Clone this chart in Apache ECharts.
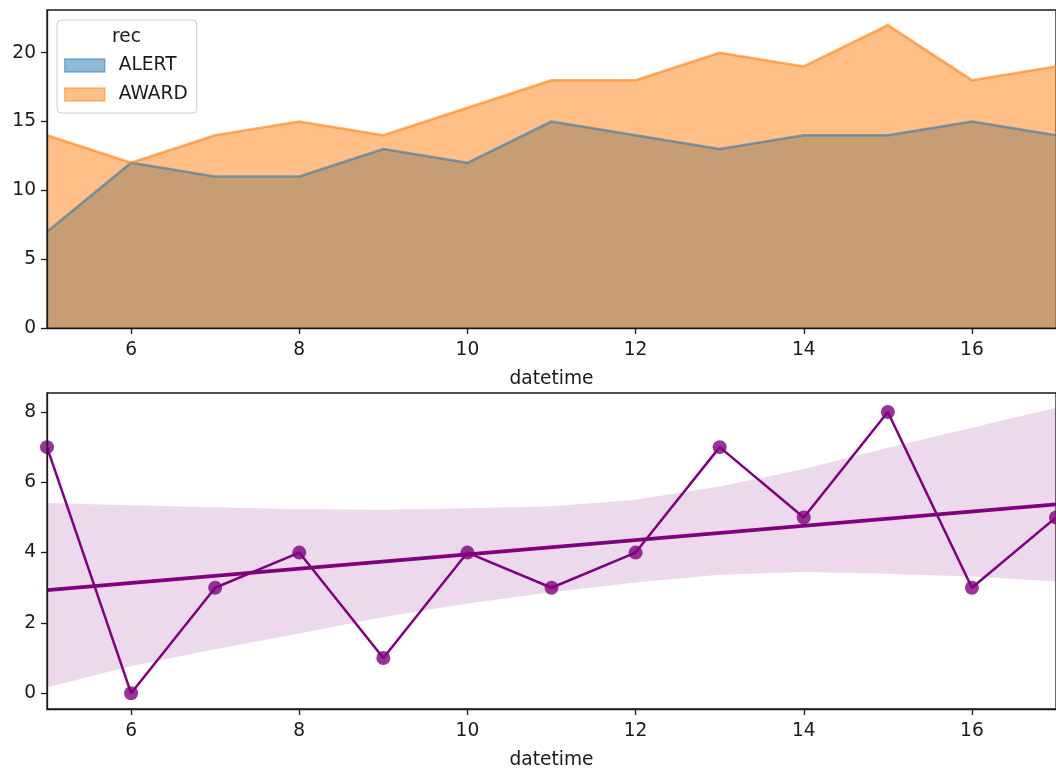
<!DOCTYPE html>
<html>
<head>
<meta charset="utf-8">
<script src="https://cdn.jsdelivr.net/npm/echarts@6/dist/echarts.min.js"></script>
<style>
  html, body { margin: 0; padding: 0; background: #fff; }
  #chart { width: 1056px; height: 771px; }
</style>
</head>
<body>
<div id="chart"></div>
<script>
// Hour of day (datetime) and counts per record type
const hours = [5, 6, 7, 8, 9, 10, 11, 12, 13, 14, 15, 16, 17];
const alertCounts = [7, 12, 11, 11, 13, 12, 15, 14, 13, 14, 14, 15, 14];
const awardCounts = [14, 12, 14, 15, 14, 16, 18, 18, 20, 19, 22, 18, 19];
// AWARD minus ALERT per hour
const gapCounts = [7, 0, 3, 4, 1, 4, 3, 4, 7, 5, 8, 3, 5];
// Linear fit of the gap and its confidence band
const fitHours = [5, 17];
const fitValues = [2.93, 5.37];
const bandLower = [0.16, 0.77, 1.25, 1.70, 2.17, 2.55, 2.87, 3.15, 3.37, 3.45, 3.40, 3.32, 3.18];
const bandUpper = [5.41, 5.35, 5.29, 5.23, 5.22, 5.26, 5.32, 5.50, 5.88, 6.38, 6.98, 7.55, 8.12];
// Tick labels
const xTicks = [6, 8, 10, 12, 14, 16];
const topYTicks = [0, 5, 10, 15, 20];
const bottomYTicks = [0, 2, 4, 6, 8];
const legendNames = ['ALERT', 'AWARD'];

const FONT = 'DejaVu Sans';
const FS = 18.6;
const INK = '#1a1a1a';
const BLUE = '#1f77b4';
const ORANGE = '#ff7f0e';
const PURPLE = '#800080';

const pairs = (xs, ys) => xs.map((x, i) => [x, ys[i]]);

function xAxisCfg(gridIndex) {
  return {
    type: 'value', gridIndex, min: 5, max: 17, z: 5,
    name: 'datetime', nameLocation: 'middle', nameGap: 42,
    nameTextStyle: { fontFamily: FONT, fontSize: FS, color: INK },
    axisLine: { show: true, onZero: false, lineStyle: { color: INK, width: 1.3 } },
    axisTick: { show: true, length: 6, customValues: xTicks, lineStyle: { color: INK, width: 1.3 } },
    axisLabel: { customValues: xTicks, margin: 13, fontFamily: FONT, fontSize: FS, color: INK },
    splitLine: { show: false }
  };
}
function yAxisCfg(gridIndex, min, max, ticks) {
  return {
    type: 'value', gridIndex, min, max, z: 5,
    axisLine: { show: true, lineStyle: { color: INK, width: 1.3 } },
    axisTick: { show: true, length: 6, customValues: ticks, lineStyle: { color: INK, width: 1.3 } },
    axisLabel: { customValues: ticks, margin: 11, fontFamily: FONT, fontSize: FS, color: INK },
    splitLine: { show: false }
  };
}

const bandData = hours.map((h, i) => [h, bandLower[i], bandUpper[i]]);

const option = {
  animation: false,
  backgroundColor: '#fff',
  grid: [
    { left: 47, top: 10, right: -5, height: 318, show: true, borderColor: INK, borderWidth: 1.3, backgroundColor: 'transparent' },
    { left: 47, top: 393, right: -5, height: 318, show: true, borderColor: INK, borderWidth: 1.3, backgroundColor: 'transparent' }
  ],
  xAxis: [xAxisCfg(0), xAxisCfg(1)],
  yAxis: [yAxisCfg(0, 0, 23.1, topYTicks), yAxisCfg(1, -0.45, 8.54, bottomYTicks)],
  legend: {
    orient: 'vertical', left: 57, top: 20,
    padding: [36, 9, 9, 7],
    itemWidth: 40, itemHeight: 13, itemGap: 10,
    backgroundColor: 'rgba(255,255,255,0.8)',
    borderColor: '#cccccc', borderWidth: 1, borderRadius: 4,
    selectedMode: false,
    textStyle: { fontFamily: FONT, fontSize: FS, color: INK, lineHeight: 18, padding: [0, 0, 0, 9] },
    data: [
      { name: legendNames[0], icon: 'rect', itemStyle: { color: 'rgba(31,119,180,0.5)', borderColor: 'rgba(31,119,180,0.5)', borderWidth: 1.5 } },
      { name: legendNames[1], icon: 'rect', itemStyle: { color: 'rgba(255,127,14,0.5)', borderColor: 'rgba(255,127,14,0.5)', borderWidth: 1.5 } }
    ]
  },
  graphic: [{
    type: 'text', left: 112, top: 28, z: 100,
    style: { text: 'rec', fontFamily: FONT, fontSize: FS, fill: INK }
  }],
  series: [
    // filled areas (no outline); the outlines are drawn above both fills
    { name: legendNames[0], type: 'line', xAxisIndex: 0, yAxisIndex: 0, data: pairs(hours, alertCounts),
      symbol: 'none', lineStyle: { width: 0, color: BLUE }, itemStyle: { color: BLUE },
      areaStyle: { color: BLUE, opacity: 0.5, origin: 'start' } },
    { name: legendNames[1], type: 'line', xAxisIndex: 0, yAxisIndex: 0, data: pairs(hours, awardCounts),
      symbol: 'none', lineStyle: { width: 0, color: ORANGE }, itemStyle: { color: ORANGE },
      areaStyle: { color: ORANGE, opacity: 0.5, origin: 'start' } },
    { name: legendNames[0], type: 'line', xAxisIndex: 0, yAxisIndex: 0, data: pairs(hours, alertCounts),
      symbol: 'none', z: 3, lineStyle: { width: 2.6, color: BLUE, opacity: 0.55 } },
    { name: legendNames[1], type: 'line', xAxisIndex: 0, yAxisIndex: 0, data: pairs(hours, awardCounts),
      symbol: 'none', z: 3, lineStyle: { width: 2.6, color: ORANGE, opacity: 0.6 } },

    // confidence band of the fit
    { type: 'custom', xAxisIndex: 1, yAxisIndex: 1, data: bandData, z: 1,
      encode: { x: 0, y: [1, 2] },
      renderItem: function (params, api) {
        if (params.dataIndex !== 0) return null;
        const pts = [];
        bandData.forEach(d => pts.push(api.coord([d[0], d[2]])));
        for (let i = bandData.length - 1; i >= 0; i--) pts.push(api.coord([bandData[i][0], bandData[i][1]]));
        return { type: 'polygon', shape: { points: pts }, style: { fill: 'rgba(128,0,128,0.15)' } };
      } },
    // hourly gap, connected
    { type: 'line', xAxisIndex: 1, yAxisIndex: 1, data: pairs(hours, gapCounts), z: 2,
      symbol: 'circle', symbolSize: 14, showSymbol: true,
      lineStyle: { color: PURPLE, width: 2.5 },
      itemStyle: { color: 'rgba(128,0,128,0.8)', borderWidth: 0 } },
    // fitted line
    { type: 'line', xAxisIndex: 1, yAxisIndex: 1, data: pairs(fitHours, fitValues), z: 3,
      symbol: 'none', lineStyle: { color: PURPLE, width: 3.8 } }
  ]
};

const chart = echarts.init(document.getElementById('chart'), null, { renderer: 'canvas' });
chart.setOption(option);
</script>
</body>
</html>
